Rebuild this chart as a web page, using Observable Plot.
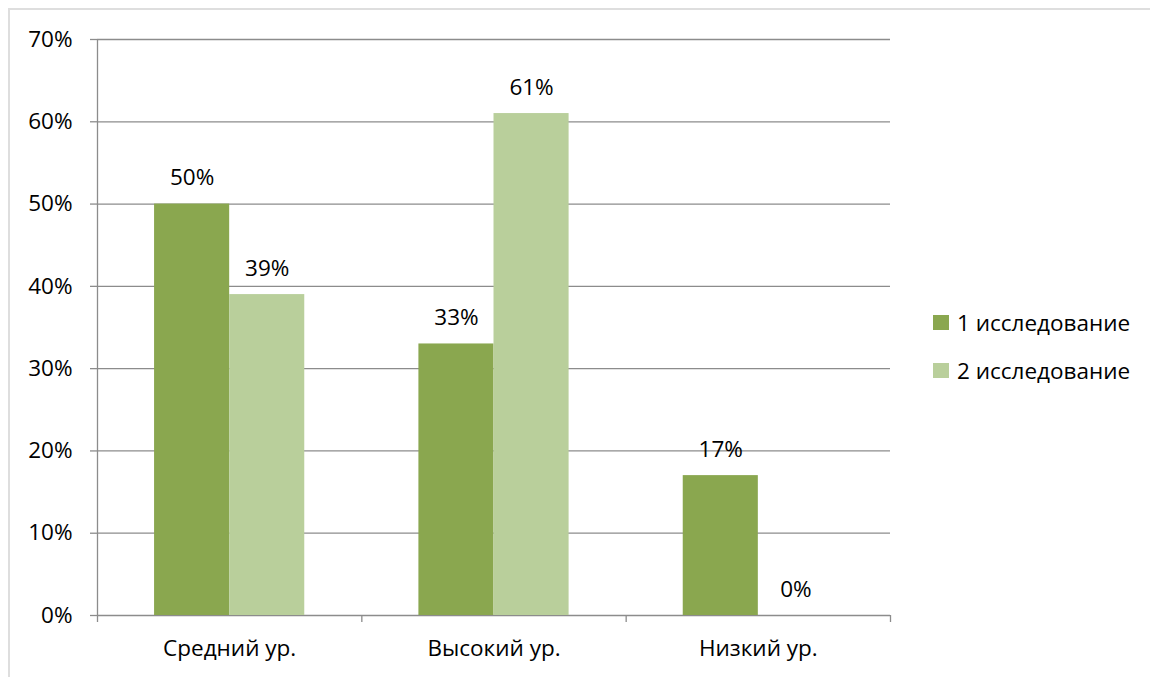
<!DOCTYPE html>
<html>
<head>
<meta charset="utf-8">
<script src="https://cdn.jsdelivr.net/npm/d3@7"></script>
<script src="https://cdn.jsdelivr.net/npm/@observablehq/plot@0.6"></script>
<style>
  html, body { margin: 0; padding: 0; background: #fff; }
  #wrap { position: relative; width: 1150px; height: 677px; overflow: hidden; font-family: "Open Sans", sans-serif; }
  #border { position: absolute; left: 8px; top: 8px; width: 1300px; height: 800px; border-top: 2px solid #dedede; border-left: 2px solid #dedede; }
  #chart { position: absolute; left: 0; top: 0; }
  #legend { position: absolute; left: 933px; top: 306px; font-size: 22.5px; color: #000; }
  .item { display: flex; align-items: center; height: 32px; }
  .item + .item { margin-top: 16px; }
  .sw { width: 16px; height: 15px; margin-right: 8px; }
</style>
</head>
<body>
<div id="wrap">
  <div id="border"></div>
  <div id="chart"></div>
  <div id="legend"></div>
</div>
<script>
// Survey results: share of pupils by level, two rounds of testing
const categories = ["Средний ур.", "Высокий ур.", "Низкий ур."];
const series = ["1 исследование", "2 исследование"];
const round1 = [0.50, 0.33, 0.17];
const round2 = [0.39, 0.61, 0.00];
const colors = ["#8aa74f", "#b9cf9b"];
const yTicks = [0, 0.1, 0.2, 0.3, 0.4, 0.5, 0.6, 0.7];

const values = [round1, round2];
const rows = [];
categories.forEach((c, i) => {
  series.forEach((s, j) => rows.push({ index: i, category: c, series: s, value: values[j][i] }));
});

// Position of each bar inside its category slot (slot width = 1)
const inner = d3.scaleBand(series, [0, 1]).paddingInner(0).paddingOuter(0.76);
rows.forEach(d => {
  d.x1 = d.index + inner(d.series);
  d.x2 = d.x1 + inner.bandwidth();
  d.xc = (d.x1 + d.x2) / 2;
});

const pct = d3.format(".0%");
const gray = "#8c8c8c";
const fs = 22.5;

const chart = Plot.plot({
  width: 1150,
  height: 677,
  marginLeft: 97,
  marginRight: 260,
  marginTop: 39,
  marginBottom: 62,
  style: { fontFamily: "Open Sans, sans-serif", fontSize: fs + "px", color: "#000", background: "transparent", overflow: "visible" },
  x: { type: "linear", domain: [0, categories.length] },
  y: { domain: [0, 0.7] },
  marks: [
    Plot.gridY(yTicks, { stroke: gray, strokeOpacity: 1, strokeWidth: 1.3 }),
    Plot.ruleX([0], { stroke: gray, strokeWidth: 1.3 }),
    Plot.rectY(rows, { x1: "x1", x2: "x2", y1: 0, y2: "value", fill: d => colors[series.indexOf(d.series)] }),
    Plot.text(rows, { x: "xc", y: "value", text: d => pct(d.value), dy: -26, fontSize: fs, fill: "#000" }),
    Plot.axisY({ ticks: yTicks, tickFormat: pct, tickSize: 7, tickPadding: 18, stroke: gray, strokeWidth: 1.3, fontSize: fs, label: null }),
    Plot.axisX({ ticks: d3.range(categories.length + 1), tickFormat: () => "", tickSize: 7, stroke: gray, strokeWidth: 1.3, label: null }),
    Plot.axisX({ ticks: categories.map((_, i) => i + 0.5), tickFormat: t => categories[Math.floor(t)], tickSize: 0, tickPadding: 25, fontSize: fs, label: null })
  ]
});
document.getElementById("chart").appendChild(chart);

// Legend
const legend = document.getElementById("legend");
series.forEach((s, j) => {
  const item = document.createElement("div");
  item.className = "item";
  const sw = document.createElement("div");
  sw.className = "sw";
  sw.style.background = colors[j];
  const label = document.createElement("span");
  label.textContent = s;
  item.appendChild(sw);
  item.appendChild(label);
  legend.appendChild(item);
});
</script>
</body>
</html>
